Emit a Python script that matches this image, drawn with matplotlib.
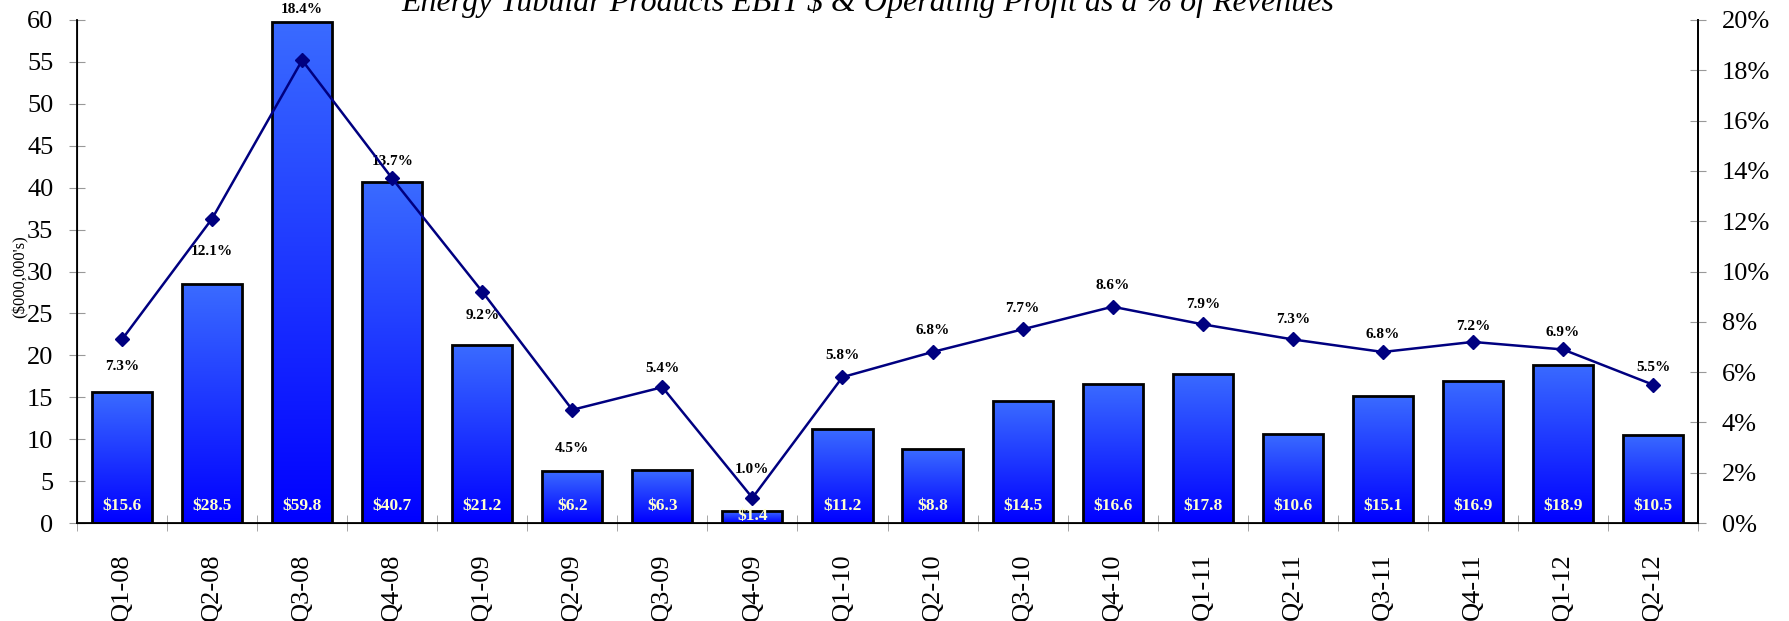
import numpy as np
import matplotlib
matplotlib.use('Agg')
import matplotlib.pyplot as plt
from matplotlib.colors import LinearSegmentedColormap
from matplotlib.ticker import MultipleLocator, FixedLocator

quarters = ['Q1-08', 'Q2-08', 'Q3-08', 'Q4-08', 'Q1-09', 'Q2-09', 'Q3-09', 'Q4-09',
            'Q1-10', 'Q2-10', 'Q3-10', 'Q4-10', 'Q1-11', 'Q2-11', 'Q3-11', 'Q4-11',
            'Q1-12', 'Q2-12']
ebit = [15.6, 28.5, 59.8, 40.7, 21.2, 6.2, 6.3, 1.4, 11.2, 8.8, 14.5, 16.6, 17.8,
        10.6, 15.1, 16.9, 18.9, 10.5]
op_pct = [7.3, 12.1, 18.4, 13.7, 9.2, 4.5, 5.4, 1.0, 5.8, 6.8, 7.7, 8.6, 7.9, 7.3,
          6.8, 7.2, 6.9, 5.5]
# label offset from marker, pixels (negative = below)
lbl_dy = [-27, -33, 51, 17, -24, -39, 19, 28, 22, 21, 21, 21, 20, 20, 17, 15, 17, 17]

plt.rcParams['font.family'] = ['Liberation Serif', 'DejaVu Serif']

fig = plt.figure(figsize=(17.89, 6.21), dpi=100)
ax = fig.add_axes([77/1789, 1-523/621, (1698-77)/1789, (523-20)/621])
x = np.arange(len(quarters))
w = 0.667

cmap = LinearSegmentedColormap.from_list('bl', ['#0000FF', '#3A6BFF'])
grad = np.linspace(0, 1, 256).reshape(-1, 1)
bars = ax.bar(x, ebit, width=w, facecolor='none', edgecolor='black', linewidth=2, zorder=3)
for b in bars:
    x0, y0 = b.get_x(), b.get_y()
    im = ax.imshow(grad, cmap=cmap, origin='lower', aspect='auto',
                   extent=(x0, x0 + b.get_width(), y0, y0 + b.get_height()), zorder=2)
    im.set_clip_path(b)

px_per_unit = 503 / 60
for xi, v in zip(x, ebit):
    dy = min(17, v * px_per_unit / 2 + 1)
    ax.annotate(f'${v:.1f}', (xi, 0), xytext=(0, dy), textcoords='offset pixels',
                ha='center', va='center', color='#FFFFD0', fontweight='bold',
                fontsize=12.5, zorder=5)

ax.set_xlim(-0.5, len(quarters) - 0.5)
ax.set_ylim(0, 60)
ax.yaxis.set_major_locator(MultipleLocator(5))
ax.tick_params(axis='y', direction='inout', length=12, color='#999999', labelsize=19, pad=11)
ax.set_xticks(x)
ax.set_xticklabels(quarters, rotation=90, fontsize=19)
ax.xaxis.set_minor_locator(FixedLocator(np.arange(-0.5, len(quarters), 1)))
ax.tick_params(axis='x', which='major', length=0, pad=22)
ax.tick_params(axis='x', which='minor', direction='inout', length=12, color='#999999')
ax.spines['top'].set_visible(False)
for s in ['left', 'bottom', 'right']:
    ax.spines[s].set_linewidth(1.3)

ax2 = ax.twinx()
ax2.plot(x, op_pct, color='#000080', lw=1.8, marker='D', ms=7, zorder=4)
for xi, v, dy in zip(x, op_pct, lbl_dy):
    ax2.annotate(f'{v:.1f}%', (xi, v), xytext=(0, dy), textcoords='offset pixels',
                 ha='center', va='center', fontweight='bold', fontsize=11)
ax2.set_ylim(0, 20)
ax2.yaxis.set_major_locator(MultipleLocator(2))
ax2.set_yticklabels([f'{int(t)}%' for t in ax2.get_yticks()])
ax2.tick_params(axis='y', direction='inout', length=12, color='#999999', labelsize=19, pad=11)
ax2.spines['top'].set_visible(False)
ax2.spines['right'].set_linewidth(1.3)
ax2.set_zorder(ax.get_zorder() + 1)
ax2.patch.set_visible(False)

fig.text(21/1789, 1-277/621, "($000,000's)", rotation=90, ha='center', va='center', fontsize=12)
fig.text(0.485, 0.995, 'Energy Tubular Products EBIT $ & Operating Profit as a % of Revenues',
         ha='center', va='center', fontstyle='italic', fontsize=23)

plt.savefig('out.png', dpi=100)
